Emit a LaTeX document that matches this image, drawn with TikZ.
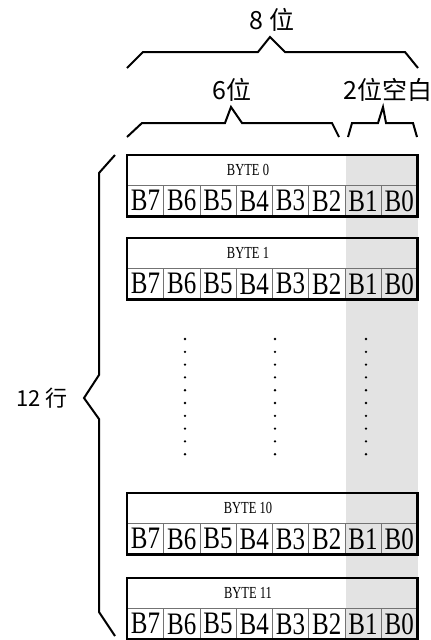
\documentclass[tikz,border=0pt]{standalone}
\usepackage{fontspec}
\setmainfont{Liberation Serif}
\newfontfamily\cjk{Noto Sans CJK SC}
\usetikzlibrary{positioning}

\begin{document}
\begin{tikzpicture}[x=1pt, y=-1pt,
  cell/.style={draw=black!55, line width=0.6pt, minimum width=36.25pt, minimum height=31pt,
    inner sep=0pt, font=\fontsize{25}{25}\selectfont},
  head/.style={inner sep=0pt, font=\fontsize{12.5}{12.5}\selectfont},
  frame/.style={line width=2.4pt},
  brace/.style={line width=2pt, line join=miter},
  lbl/.style={inner sep=0pt, font=\cjk\fontsize{25}{25}\selectfont}]
\useasboundingbox (0,0) rectangle (431,640);

% shaded spare bits
\fill[black!11] (346,155) rectangle (418,640);

% byte rows
\foreach \t/\n in {155/0, 238/1, 493/10, 578/11} {
  \coordinate (tl\n) at (127,\t);
  \node[head] (hdr\n) at (248,{\t+15}) {\scalebox{1}[1.35]{BYTE \n}};
  \foreach \b in {7,...,0}
    \node[cell, anchor=north west] (c\n-\b) at ({127+(7-\b)*36.25},{\t+30}) {\scalebox{1}[1.25]{B\b}};
  \draw[frame] (tl\n) rectangle (c\n-0.south east);
}

% omitted rows
\foreach \x in {185,275,366}
  \foreach \k in {0,...,9}
    \fill (\x,{339+\k*12.8}) circle (1.3pt);

% braces
\draw[brace] (127,68) -- (143,52) -- (258,52) -- (270,37) -- (285,52) -- (405,52) -- (418,68);
\draw[brace] (127,137) -- (142,123) -- (225,123) -- (231,107) -- (242,123) -- (332,123) -- (339,137);
\draw[brace] (348,137) -- (352,123) -- (378,123) -- (383,107) -- (386,123) -- (413,123) -- (417,137);
\draw[brace] (115,155) -- (99,173) -- (99,375) -- (84,398) -- (99,419) -- (99,612) -- (115,636);

% labels
\node[lbl] (all) at (272,20) {8 位};
\node[lbl] (used) at (232,90) {6位};
\node[lbl] (spare) at (388,90) {2位空白};
\node[lbl, font=\cjk\fontsize{22}{22}\selectfont] (rows) at (42,398) {12 行};
\end{tikzpicture}
\end{document}
